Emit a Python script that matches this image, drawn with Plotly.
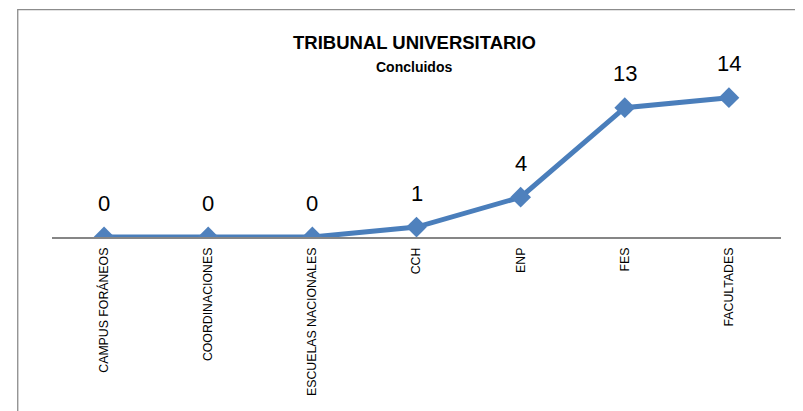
import plotly.graph_objects as go

# categories and values
categorias = ["CAMPUS FORÁNEOS", "COORDINACIONES", "ESCUELAS NACIONALES",
              "CCH", "ENP", "FES", "FACULTADES"]
concluidos = [0, 0, 0, 1, 4, 13, 14]

titulo = "TRIBUNAL UNIVERSITARIO"
subtitulo = "Concluidos"

lineColor = "#4A7EBB"
markerColor = "#4F81BD"
fontFamily = "Liberation Sans, Arial, sans-serif"

fig = go.Figure()
fig.add_trace(go.Scatter(
    x=categorias, y=concluidos,
    mode="lines+markers",
    line=dict(color=lineColor, width=5),
    marker=dict(symbol="diamond", size=16, color=markerColor),
    showlegend=False,
    hoverinfo="x+y",
))

# data labels above each point
for cat, val in zip(categorias, concluidos):
    fig.add_annotation(x=cat, y=val, text=str(val), showarrow=False,
                       yshift=34, font=dict(family=fontFamily, size=22, color="black"))

# title + subtitle
fig.add_annotation(xref="paper", yref="paper", x=0.4966, y=0.975, yanchor="middle",
                   text="<b>" + titulo + "</b>", showarrow=False,
                   font=dict(family=fontFamily, size=18.5, color="black"))
fig.add_annotation(xref="paper", yref="paper", x=0.4966, y=0.854, yanchor="middle",
                   text="<b>" + subtitulo + "</b>", showarrow=False,
                   font=dict(family=fontFamily, size=14, color="black"))

# chart border (only the top and left edges are visible in the crop)
fig.add_shape(type="rect", xref="paper", yref="paper",
              x0=-0.047, x1=1.2, y0=-1.0, y1=1.143,
              line=dict(color="#8C8C8C", width=1.3), layer="below")

# page has an 8px body margin, so margins are shifted to compensate
fig.update_layout(
    width=803, height=411,
    margin=dict(l=44, r=30, t=30, b=182),
    paper_bgcolor="white", plot_bgcolor="white",
    font=dict(family=fontFamily, color="black"),
    xaxis=dict(
        type="category", range=[-0.5, 6.5],
        showgrid=False, zeroline=False,
        showline=True, linecolor="#868686", linewidth=1.5,
        ticks="", tickangle=-90, ticklabelstandoff=4,
        tickfont=dict(family=fontFamily, size=12.3, color="black"),
    ),
    yaxis=dict(range=[0, 20], visible=False, showgrid=False, zeroline=False),
)

fig.write_html("out.html")
